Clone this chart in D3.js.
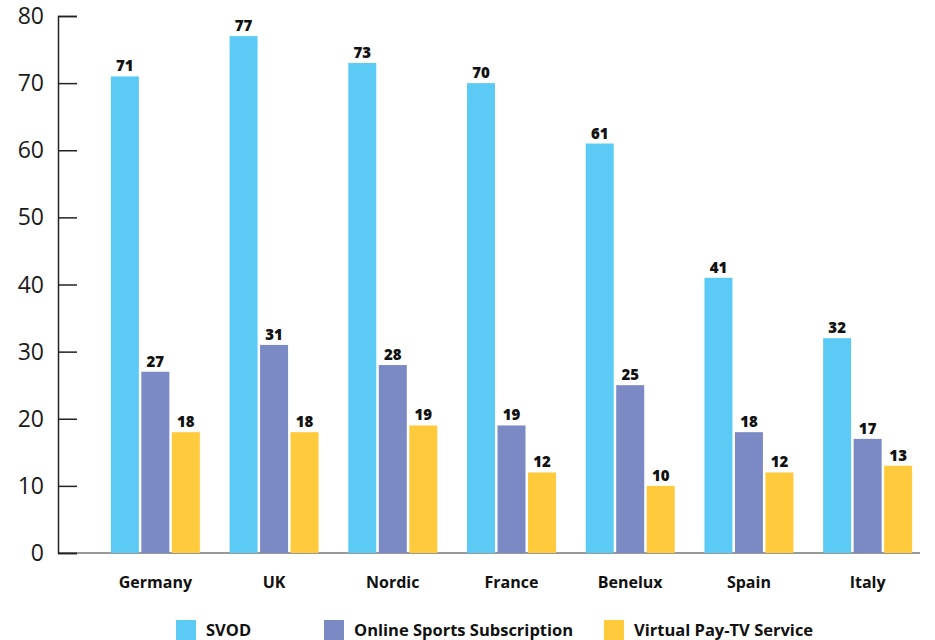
<!DOCTYPE html>
<html>
<head>
<meta charset="utf-8">
<script src="https://cdn.jsdelivr.net/npm/d3@7"></script>
<style>
  body { margin: 0; background: #fff; }
  text { font-family: "Open Sans", Lato, sans-serif; }
</style>
</head>
<body>
<div id="chart"></div>
<script>
const countries = ["Germany", "UK", "Nordic", "France", "Benelux", "Spain", "Italy"];
const seriesNames = ["SVOD", "Online Sports Subscription", "Virtual Pay-TV Service"];
const svod = [71, 77, 73, 70, 61, 41, 32];
const sports = [27, 31, 28, 19, 25, 18, 17];
const vptv = [18, 18, 19, 12, 10, 12, 13];
const yTicks = [0, 10, 20, 30, 40, 50, 60, 70, 80];
const colors = ["#5bcbf5", "#7b89c4", "#ffcb3d"];

const width = 935, height = 640;
const values = [svod, sports, vptv];

let svg = d3.select("#chart")
    .append("svg")
    .attr("width", width)
    .attr("height", height);

let x = d3.scaleBand()
    .domain(countries)
    .range([96, 927]);

let x1 = d3.scaleBand()
    .domain(seriesNames)
    .range([0, 89])
    .paddingInner(0.082);

let y = d3.scaleLinear()
    .domain([0, 80])
    .range([553, 16]);

// x baseline
svg.append("line")
    .attr("x1", 58).attr("x2", 920)
    .attr("y1", y(0)).attr("y2", y(0))
    .attr("stroke", "#777")
    .attr("stroke-width", 1.5);

// y axis
let yAxis = svg.append("g")
    .attr("transform", "translate(58,0)")
    .call(d3.axisRight(y).tickValues(yTicks).tickSize(19).tickFormat(""));
yAxis.select(".domain").attr("stroke", "#222").attr("stroke-width", 1.5);
yAxis.selectAll(".tick line").attr("stroke", "#222").attr("stroke-width", 1.5);

svg.append("g").selectAll("text")
    .data(yTicks)
    .join("text")
    .attr("x", 44)
    .attr("y", d => y(d) + 8)
    .attr("text-anchor", "end")
    .style("font-size", "23px")
    .style("font-weight", 400)
    .style("fill", "#1a1a1a")
    .text(d => d);

// bars
let group = svg.selectAll(".group")
    .data(countries)
    .join("g")
    .attr("class", "group")
    .attr("transform", d => `translate(${x(d) + x.bandwidth() / 2 - 44.5},0)`);

group.selectAll("rect")
    .data((d, i) => seriesNames.map((s, j) => ({ s, v: values[j][i], j })))
    .join("rect")
    .attr("x", d => x1(d.s))
    .attr("width", x1.bandwidth())
    .attr("y", d => y(d.v))
    .attr("height", d => y(0) - y(d.v))
    .attr("fill", d => colors[d.j]);

group.selectAll(".val")
    .data((d, i) => seriesNames.map((s, j) => ({ s, v: values[j][i] })))
    .join("text")
    .attr("class", "val")
    .attr("x", d => x1(d.s) + x1.bandwidth() / 2)
    .attr("y", d => y(d.v) - 5)
    .attr("text-anchor", "middle")
    .style("font-size", "15px")
    .style("font-weight", 800)
    .style("fill", "#111")
    .text(d => d.v);

// category labels
svg.append("g").selectAll("text")
    .data(countries)
    .join("text")
    .attr("x", d => x(d) + x.bandwidth() / 2)
    .attr("y", 588)
    .attr("text-anchor", "middle")
    .style("font-size", "16px")
    .style("font-weight", "bold")
    .style("fill", "#111")
    .text(d => d);

// legend
const legendX = [176, 324, 604];
let legend = svg.append("g").selectAll("g")
    .data(seriesNames)
    .join("g")
    .attr("transform", (d, i) => `translate(${legendX[i]},620)`);

legend.append("rect")
    .attr("width", 20).attr("height", 20)
    .attr("fill", (d, i) => colors[i]);

legend.append("text")
    .attr("x", 30)
    .attr("y", 16)
    .style("font-size", "16.5px")
    .style("font-weight", "bold")
    .style("fill", "#111")
    .text(d => d);
</script>
</body>
</html>
